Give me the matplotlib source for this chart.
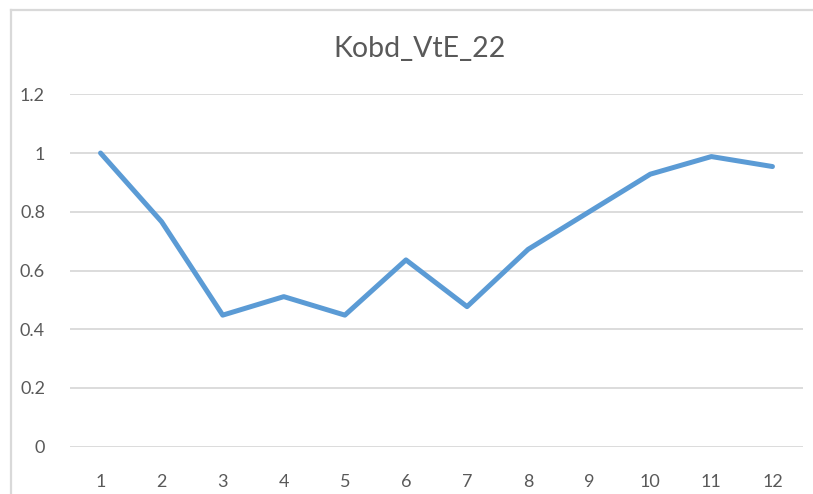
#!/usr/bin/env python3
# -*- coding: utf-8 -*-

import matplotlib
matplotlib.use('Agg')
import matplotlib.pyplot as plt
from matplotlib.lines import Line2D

categories = ['1', '2', '3', '4', '5', '6', '7', '8', '9', '10', '11', '12']
values = [1.0, 0.766, 0.448, 0.511, 0.448, 0.636, 0.477, 0.672, 0.80, 0.928, 0.988, 0.954]
y_ticks = [0, 0.2, 0.4, 0.6, 0.8, 1, 1.2]
y_labels = ['0', '0.2', '0.4', '0.6', '0.8', '1', '1.2']
title = 'Kobd_VtE_22'

plt.rcParams['font.family'] = ['Lato', 'DejaVu Sans']

W, H = 813, 494
fig = plt.figure(figsize=(W / 100, H / 100), dpi=100)
ax = fig.add_axes([70 / W, 1 - 446.7 / H, (803 - 70) / W, (446.7 - 94.3) / H])

x = list(range(1, len(categories) + 1))
ax.plot(x, values, '-', color='#5B9BD5', lw=3.6, solid_capstyle='round',
        solid_joinstyle='round', zorder=3)

ax.set_xlim(0.5, len(categories) + 0.5)
ax.set_ylim(0, 1.2)
ax.set_xticks(x)
ax.set_xticklabels(categories)
ax.set_yticks(y_ticks)
ax.set_yticklabels(y_labels)
ax.tick_params(axis='both', length=0, labelsize=13, labelcolor='#595959')
ax.tick_params(axis='y', pad=18)
ax.tick_params(axis='x', pad=20)
ax.grid(axis='y', color='#D9D9D9', lw=1.3)
ax.set_axisbelow(True)
for s in ax.spines.values():
    s.set_visible(False)

fig.text(420 / W, 1 - 49 / H, title, ha='center', va='center',
         fontsize=20.5, color='#595959')

# chart border (only left and top are inside the crop)
fig.add_artist(Line2D([11 / W, 11 / W], [0, 1 - 10 / H], transform=fig.transFigure,
                      color='#D9D9D9', lw=1.6))
fig.add_artist(Line2D([11 / W, 1], [1 - 10 / H, 1 - 10 / H], transform=fig.transFigure,
                      color='#D9D9D9', lw=1.6))

fig.savefig('out.png', dpi=100)
